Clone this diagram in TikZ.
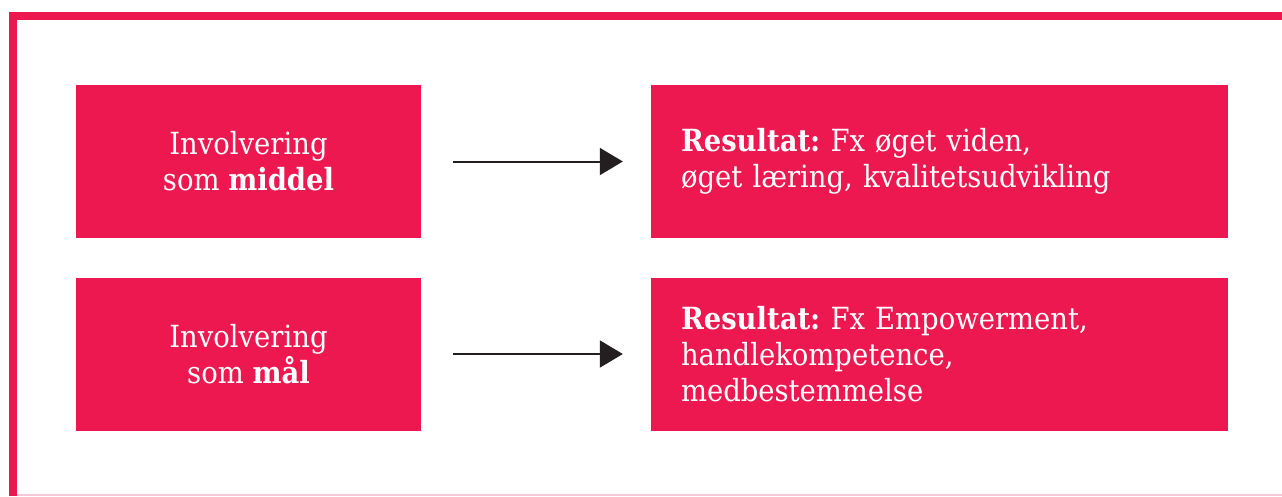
\documentclass[tikz,border=0pt]{standalone}
\usepackage{fontspec}
\setmainfont{DejaVu Serif Condensed}
\frenchspacing
\usetikzlibrary{arrows.meta}

\definecolor{signal}{HTML}{ED1850}
\definecolor{paleline}{HTML}{F6C9D6}
\definecolor{inkblack}{HTML}{231F20}

\tikzset{
  redbox/.style={fill=signal, text=white, minimum height=153pt, inner sep=0pt,
    font=\fontsize{30.5}{36}\selectfont},
  involvebox/.style={redbox, minimum width=345pt, align=center},
  resultbox/.style={redbox, text width=517pt, inner xsep=30pt, align=left},
  flow/.style={inkblack, line width=2pt, -{Triangle[length=23pt,width=27pt]},
    shorten <=32pt, shorten >=28pt}
}

\begin{document}
\begin{tikzpicture}[x=1pt,y=-1pt]
\useasboundingbox (0,0) rectangle (1282,496);

\pgfmathsetmacro{\rowA}{161.5}
\pgfmathsetmacro{\rowB}{354}

% frame
\fill[signal] (9,12) rectangle (1282,20);
\fill[signal] (9,12) rectangle (17,496);
\draw[paleline, line width=1.5pt] (17,495) -- (1282,495);

\node[involvebox] (middel) at (248.5,\rowA) {Involvering\\som \textbf{middel}};
\node[involvebox] (maal) at (248.5,\rowB) {Involvering\\som \textbf{mål}};

\node[resultbox] (resmiddel) at (939.5,\rowA) {\textbf{Resultat:} Fx øget viden,\\øget læring, kvalitetsudvikling};
\node[resultbox] (resmaal) at (939.5,\rowB) {\textbf{Resultat:} Fx Empowerment,\\handlekompetence,\\medbestemmelse};

\draw[flow] (middel.east) -- (resmiddel.west);
\draw[flow] (maal.east) -- (resmaal.west);

\end{tikzpicture}
\end{document}
